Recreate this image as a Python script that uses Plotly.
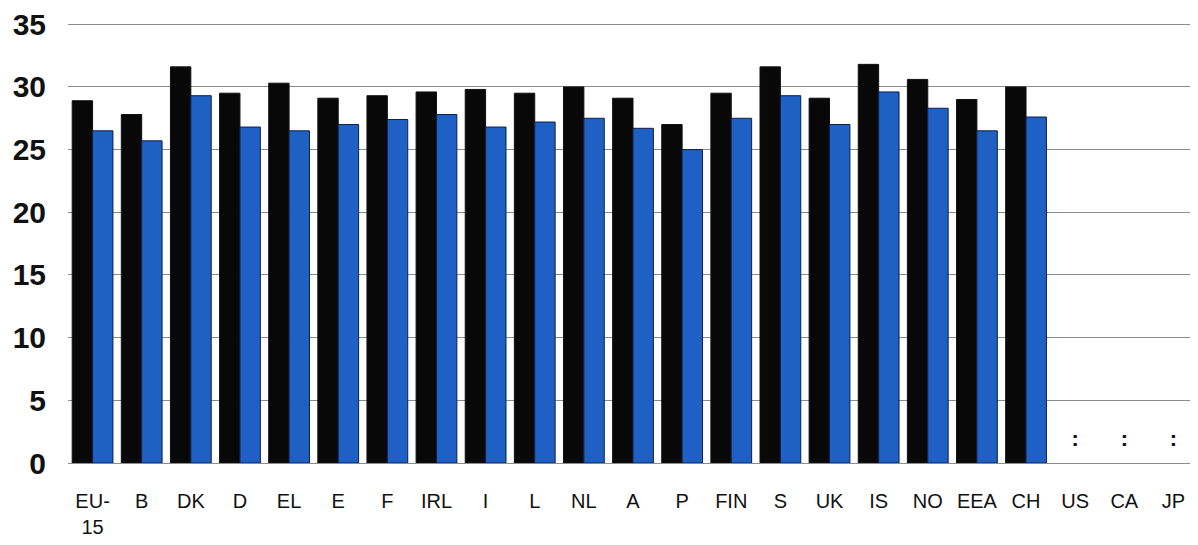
import plotly.graph_objects as go

categories = ["EU-<br>15", "B", "DK", "D", "EL", "E", "F", "IRL", "I", "L", "NL", "A", "P",
              "FIN", "S", "UK", "IS", "NO", "EEA", "CH", "US", "CA", "JP"]
series_black = [28.9, 27.8, 31.6, 29.5, 30.3, 29.1, 29.3, 29.6, 29.8, 29.5, 30.0, 29.1, 27.0,
                29.5, 31.6, 29.1, 31.8, 30.6, 29.0, 30.0, None, None, None]
series_blue = [26.5, 25.7, 29.3, 26.8, 26.5, 27.0, 27.4, 27.8, 26.8, 27.2, 27.5, 26.7, 25.0,
               27.5, 29.3, 27.0, 29.6, 28.3, 26.5, 27.6, None, None, None]
missing_cats = ["US", "CA", "JP"]
missing_marker = [":", ":", ":"]
missing_y = [1.8, 1.8, 1.8]
y_ticks = [0, 5, 10, 15, 20, 25, 30, 35]

fig = go.Figure()
fig.add_trace(go.Bar(x=categories, y=series_black, marker=dict(color="#080808",
                     line=dict(color="#111111", width=1)), showlegend=False))
fig.add_trace(go.Bar(x=categories, y=series_blue, marker=dict(color="#1f60c4",
                     line=dict(color="#0d1f4a", width=1)), showlegend=False))
fig.add_trace(go.Scatter(x=missing_cats, y=missing_y, text=missing_marker, mode="text",
                         textfont=dict(family="Liberation Sans", size=22, color="#111111", weight="bold"),
                         showlegend=False, hoverinfo="skip"))

fig.update_layout(
    width=1190, height=537,
    margin=dict(l=60, r=0, t=11, b=82),
    paper_bgcolor="white", plot_bgcolor="white",
    barmode="group", bargap=0.17, bargroupgap=0.0,
    font=dict(family="Liberation Sans", color="#111111"),
)
fig.update_xaxes(
    categoryorder="array", categoryarray=categories,
    range=[-0.5, len(categories) - 0.5],
    showgrid=False, showline=False, zeroline=False,
    ticks="outside", ticklen=20, tickcolor="rgba(0,0,0,0)",
    tickfont=dict(family="Liberation Sans", size=20, color="#111111"),
    tickangle=0,
)
fig.update_yaxes(
    range=[0, 35.1], tickvals=y_ticks, ticktext=[str(v) for v in y_ticks],
    showgrid=True, gridcolor="#8c8c8c", gridwidth=1,
    zeroline=True, zerolinecolor="#8c8c8c", zerolinewidth=1,
    showline=False, ticklabeloverflow="allow",
    ticks="outside", ticklen=15, tickcolor="rgba(0,0,0,0)",
    tickfont=dict(family="Liberation Sans", size=30, color="#111111", weight="bold"),
)

fig.write_html("out.html")
